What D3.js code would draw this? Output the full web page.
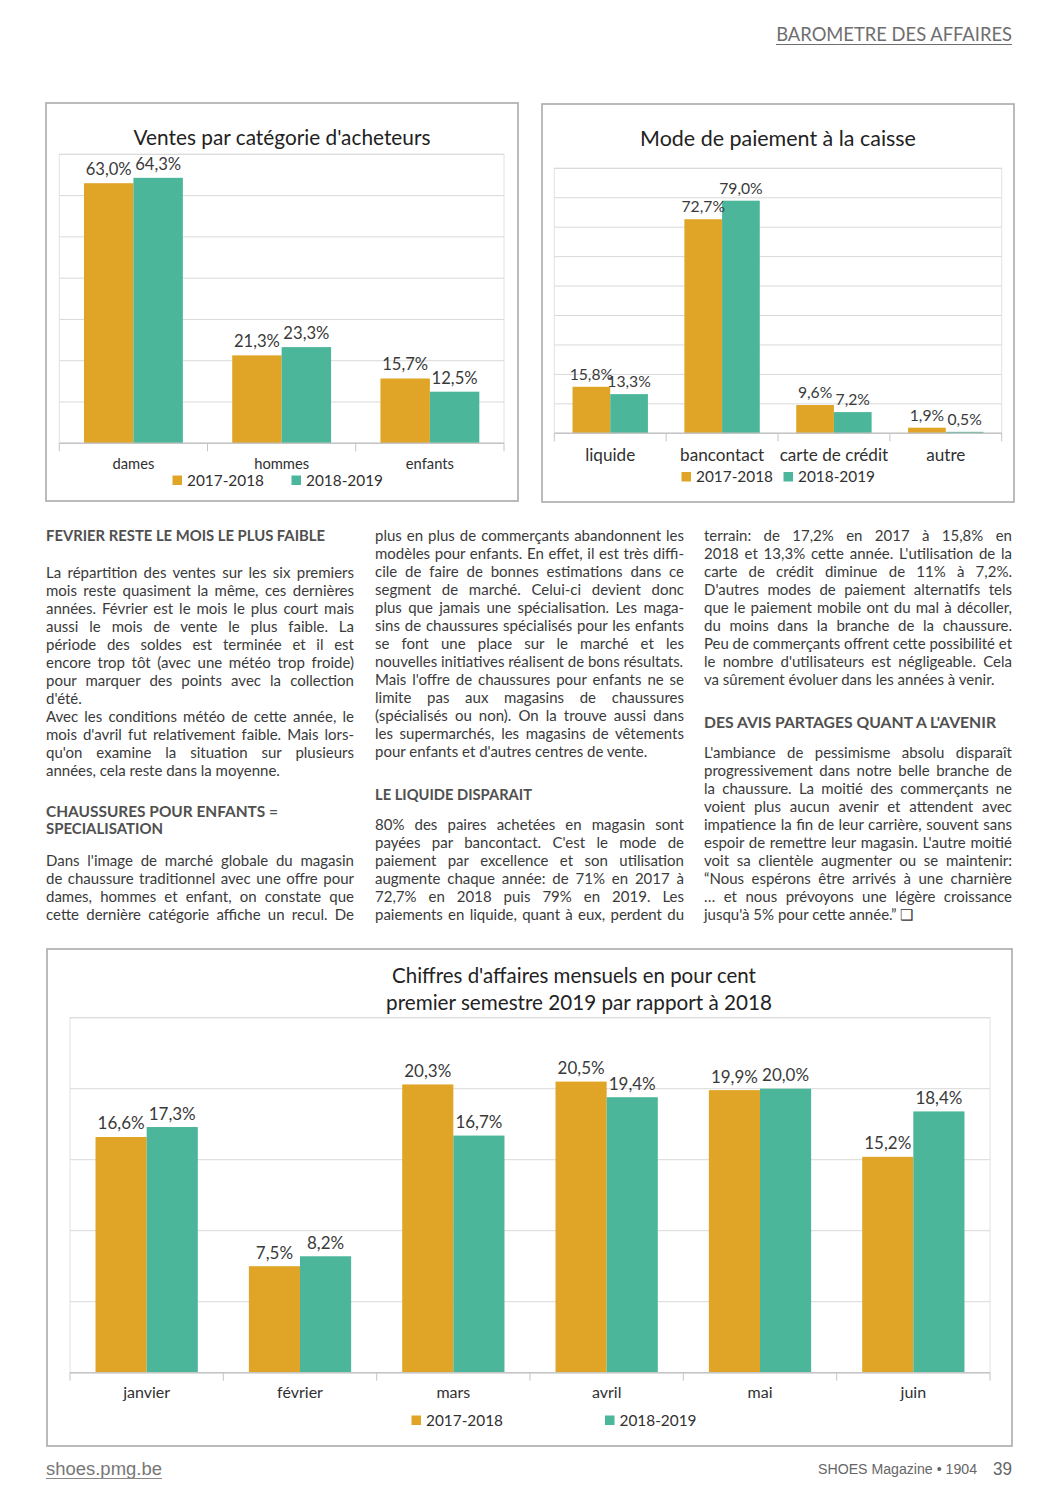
<!DOCTYPE html>
<html><head><meta charset="utf-8">
<script src="https://cdn.jsdelivr.net/npm/d3@7"></script>
<style>html,body{margin:0;padding:0;background:#fff;} svg{display:block;}</style>
</head><body>
<script>
// ---------- DATA ----------
const seriesNames = ["2017-2018", "2018-2019"];
const seriesColors = ["#E0A526", "#4BB69A"];

const buyerCats = ["dames", "hommes", "enfants"];
const buyer1718 = [63.0, 21.3, 15.7];
const buyer1819 = [64.3, 23.3, 12.5];
const buyerGrid = [10, 20, 30, 40, 50, 60, 70];

const payCats = ["liquide", "bancontact", "carte de crédit", "autre"];
const pay1718 = [15.8, 72.7, 9.6, 1.9];
const pay1819 = [13.3, 79.0, 7.2, 0.5];
const payGrid = [10, 20, 30, 40, 50, 60, 70, 80, 90];

const months = ["janvier", "février", "mars", "avril", "mai", "juin"];
const month1718 = [16.6, 7.5, 20.3, 20.5, 19.9, 15.2];
const month1819 = [17.3, 8.2, 16.7, 19.4, 20.0, 18.4];
const monthGrid = [5, 10, 15, 20, 25];

// ---------- SETUP ----------
const W = 1058, H = 1496;
const FONT = "Lato, 'Open Sans', sans-serif";
const svg = d3.select("body").append("svg").attr("width", W).attr("height", H);
svg.append("rect").attr("width", W).attr("height", H).attr("fill", "#fff");

function measure(str, size, family, weight) {
  const t = svg.append("text").attr("font-family", family).attr("font-weight", weight || 400)
    .attr("font-size", size).text(str);
  const w = t.node().getComputedTextLength();
  t.remove();
  return w;
}
function fitSize(str, target, family, weight) {
  return 100 * target / measure(str, 100, family || FONT, weight);
}
const fmt = v => d3.format(".1f")(v).replace(".", ",") + "%";

// ---------- BAR CHART ----------
function barChart(o) {
  const g = svg.append("g");
  g.append("rect").attr("x", o.box[0]).attr("y", o.box[1])
    .attr("width", o.box[2] - o.box[0]).attr("height", o.box[3] - o.box[1])
    .attr("fill", "#fff").attr("stroke", "#ababab").attr("stroke-width", 1.6);

  const x = d3.scaleBand().domain(o.cats).range([o.plot.l, o.plot.r])
    .paddingInner(o.pad).paddingOuter(o.pad / 2);
  const xs = d3.scaleBand().domain(seriesNames).range([0, x.bandwidth()]);
  const y = d3.scaleLinear().domain([0, o.yMax]).range([o.plot.b, o.plot.t]);

  // plot area border
  g.append("rect").attr("x", o.plot.l).attr("y", y(o.yMax))
    .attr("width", o.plot.r - o.plot.l).attr("height", y(0) - y(o.yMax))
    .attr("fill", "none").attr("stroke", "#e2e2e2").attr("stroke-width", 1);
  // gridlines
  g.selectAll(null).data(o.grid).join("line")
    .attr("x1", o.plot.l).attr("x2", o.plot.r)
    .attr("y1", d => y(d)).attr("y2", d => y(d))
    .attr("stroke", "#d9d9d9").attr("stroke-width", 1);

  // titles
  o.titles.forEach(tt => {
    const fs = fitSize(tt.t, tt.w);
    g.append("text").attr("x", tt.x).attr("y", tt.y).attr("text-anchor", "middle")
      .attr("font-family", FONT).attr("font-size", fs).attr("fill", "#222").text(tt.t);
  });

  const rows = o.cats.map((c, i) => ({ c, vals: o.series.map((s, k) => ({ c, k, s: seriesNames[k], v: s[i] })) }));
  const cg = g.selectAll(null).data(rows).join("g")
    .attr("transform", d => `translate(${x(d.c)},0)`);
  cg.selectAll("rect").data(d => d.vals).join("rect")
    .attr("x", d => xs(d.s)).attr("width", xs.bandwidth())
    .attr("y", d => y(d.v)).attr("height", d => y(0) - y(d.v))
    .attr("fill", d => seriesColors[d.k]);
  const lfs = fitSize(o.labelSample, o.labelW);
  cg.selectAll("text").data(d => d.vals).join("text")
    .attr("x", d => xs(d.s) + xs.bandwidth() / 2).attr("y", d => y(d.v) - o.labelOff)
    .attr("text-anchor", "middle").attr("font-family", FONT).attr("font-size", lfs)
    .attr("fill", "#3a3a3a").text(d => fmt(d.v));

  // axis
  const cfs = fitSize(o.catSample, o.catW);
  const ax = g.append("g").attr("transform", `translate(0,${y(0)})`)
    .call(d3.axisBottom(x).tickSize(0));
  ax.select(".domain").remove();
  ax.selectAll("text").attr("y", o.catY - y(0)).attr("dy", 0)
    .attr("font-family", FONT).attr("font-size", cfs).attr("fill", "#303030");
  g.append("line").attr("x1", o.plot.l).attr("x2", o.plot.r)
    .attr("y1", y(0)).attr("y2", y(0)).attr("stroke", "#c4c4c4").attr("stroke-width", 1.6);
  g.selectAll(null).data(d3.range(o.cats.length + 1)).join("line")
    .attr("x1", i => o.plot.l + i * x.step()).attr("x2", i => o.plot.l + i * x.step())
    .attr("y1", y(0)).attr("y2", y(0) + 8).attr("stroke", "#c4c4c4").attr("stroke-width", 1);

  // legend
  const legfs = fitSize("2017-2018", 77);
  seriesNames.forEach((s, k) => {
    const p = o.legend[k];
    g.append("rect").attr("x", p.x).attr("y", o.legY - 10).attr("width", 9.5).attr("height", 9.5)
      .attr("fill", seriesColors[k]);
    g.append("text").attr("x", p.x + 14.5).attr("y", o.legY).attr("font-family", FONT)
      .attr("font-size", legfs).attr("fill", "#303030").text(s);
  });
}

barChart({
  box: [46, 103, 518, 501], plot: { l: 59.3, r: 504, t: 154.3, b: 443.3 },
  cats: buyerCats, series: [buyer1718, buyer1819], yMax: 70, grid: buyerGrid, pad: 0.333,
  titles: [{ t: "Ventes par catégorie d'acheteurs", x: 282, y: 145, w: 297 }],
  labelSample: "63,0%", labelW: 46, labelOff: 8,
  catSample: "hommes", catW: 55, catY: 469.5,
  legend: [{ x: 172.5 }, { x: 291.5 }], legY: 485.5
});
barChart({
  box: [542, 104, 1014, 502], plot: { l: 554.3, r: 1001.7, t: 168.3, b: 433.3 },
  cats: payCats, series: [pay1718, pay1819], yMax: 90, grid: payGrid, pad: 0.326,
  titles: [{ t: "Mode de paiement à la caisse", x: 778, y: 146, w: 276 }],
  labelSample: "79,0%", labelW: 43.5, labelOff: 7,
  catSample: "bancontact", catW: 84, catY: 461.5,
  legend: [{ x: 681.5 }, { x: 783.5 }], legY: 482
});
barChart({
  box: [47, 949, 1012, 1446], plot: { l: 70, r: 990, t: 1017.7, b: 1372.7 },
  cats: months, series: [month1718, month1819], yMax: 25, grid: monthGrid, pad: 0.333,
  titles: [{ t: "Chiffres d'affaires mensuels en pour cent", x: 574, y: 983, w: 364 },
           { t: "premier semestre 2019 par rapport à 2018", x: 579, y: 1010, w: 386 }],
  labelSample: "16,6%", labelW: 47, labelOff: 7.5,
  catSample: "janvier", catW: 47, catY: 1398.5,
  legend: [{ x: 411.5 }, { x: 605 }], legY: 1425.5
});

// ---------- ARTICLE TEXT ----------
const bodyFs = (() => {
  const s = [["nouvelles initiatives réalisent de bons résultats.", 302],
             ["années, cela reste dans la moyenne.", 241],
             ["pour enfants et d'autres centres de vente.", 269],
             ["va sûrement évoluer dans les années à venir.", 292]];
  return d3.mean(s, d => fitSize(d[0], d[1]));
})();

function heading(x, y, str, w) {
  svg.append("text").attr("x", x).attr("y", y).attr("font-family", FONT).attr("font-weight", 700)
    .attr("font-size", 16).attr("fill", "#505050")
    .attr("textLength", w).attr("lengthAdjust", "spacingAndGlyphs").text(str);
}
function para(x, y0, width, lines) {
  lines.forEach((ln, i) => {
    const justify = ln[0] !== "*";
    const str = justify ? ln : ln.slice(1);
    const t = svg.append("text").attr("x", x).attr("y", y0 + i * 18)
      .attr("font-family", FONT).attr("font-size", bodyFs).attr("fill", "#3a3a3a")
      .attr("xml:space", "preserve").text(str);
    const w = t.node().getComputedTextLength();
    const spaces = (str.match(/ /g) || []).length;
    if (w > width) {
      t.attr("textLength", width).attr("lengthAdjust", "spacingAndGlyphs");
    } else if (justify && spaces > 0) {
      t.style("word-spacing", ((width - w) / spaces) + "px");
      const w2 = t.node().getComputedTextLength();
      if (Math.abs(w2 - width) > 2) {
        t.style("word-spacing", null).attr("textLength", width).attr("lengthAdjust", "spacing");
      }
    }
  });
}

heading(46, 540.5, "FEVRIER RESTE LE MOIS LE PLUS FAIBLE", 279);
para(46, 577.5, 308, [
  "La répartition des ventes sur les six premiers",
  "mois reste quasiment la même, ces dernières",
  "années. Février est le mois le plus court mais",
  "aussi le mois de vente le plus faible. La",
  "période des soldes est terminée et il est",
  "encore trop tôt (avec une météo trop froide)",
  "pour marquer des points avec la collection",
  "*d'été.",
  "Avec les conditions météo de cette année, le",
  "mois d'avril fut relativement faible. Mais lors-",
  "qu'on examine la situation sur plusieurs",
  "*années, cela reste dans la moyenne."
]);
heading(46, 816.5, "CHAUSSURES POUR ENFANTS =", 232);
heading(46, 834, "SPECIALISATION", 117);
para(46, 865.5, 308, [
  "Dans l'image de marché globale du magasin",
  "de chaussure traditionnel avec une offre pour",
  "dames, hommes et enfant, on constate que",
  "cette dernière catégorie affiche un recul. De"
]);

para(375, 541, 309, [
  "plus en plus de commerçants abandonnent les",
  "modèles pour enfants. En effet, il est très diffi-",
  "cile de faire de bonnes estimations dans ce",
  "segment de marché. Celui-ci devient donc",
  "plus que jamais une spécialisation. Les maga-",
  "sins de chaussures spécialisés pour les enfants",
  "se font une place sur le marché et les",
  "*nouvelles initiatives réalisent de bons résultats.",
  "Mais l'offre de chaussures pour enfants ne se",
  "limite pas aux magasins de chaussures",
  "(spécialisés ou non). On la trouve aussi dans",
  "les supermarchés, les magasins de vêtements",
  "*pour enfants et d'autres centres de vente."
]);
heading(375, 799.5, "LE LIQUIDE DISPARAIT", 157);
para(375, 829.5, 309, [
  "80% des paires achetées en magasin sont",
  "payées par bancontact. C'est le mode de",
  "paiement par excellence et son utilisation",
  "augmente chaque année: de 71% en 2017 à",
  "72,7% en 2018 puis 79% en 2019. Les",
  "paiements en liquide, quant à eux, perdent du"
]);

para(704, 541, 308, [
  "terrain: de 17,2% en 2017 à 15,8% en",
  "2018 et 13,3% cette année. L'utilisation de la",
  "carte de crédit diminue de 11% à 7,2%.",
  "D'autres modes de paiement alternatifs tels",
  "que le paiement mobile ont du mal à décoller,",
  "du moins dans la branche de la chaussure.",
  "Peu de commerçants offrent cette possibilité et",
  "le nombre d'utilisateurs est négligeable. Cela",
  "*va sûrement évoluer dans les années à venir."
]);
heading(704, 727.5, "DES AVIS PARTAGES QUANT A L'AVENIR", 292);
para(704, 757.5, 308, [
  "L'ambiance de pessimisme absolu disparaît",
  "progressivement dans notre belle branche de",
  "la chaussure. La moitié des commerçants ne",
  "voient plus aucun avenir et attendent avec",
  "impatience la fin de leur carrière, souvent sans",
  "espoir de remettre leur magasin. L'autre moitié",
  "voit sa clientèle augmenter ou se maintenir:",
  "“Nous espérons être arrivés à une charnière",
  "… et nous prévoyons une légère croissance",
  "*jusqu'à 5% pour cette année.” ❑"
]);

// ---------- PAGE HEADER / FOOTER ----------
(function () {
  const fs = fitSize("BAROMETRE DES AFFAIRES", 236);
  svg.append("text").attr("x", 1012).attr("y", 40.5).attr("text-anchor", "end")
    .attr("font-family", FONT).attr("font-size", fs).attr("fill", "#6e6e6e").text("BAROMETRE DES AFFAIRES");
  svg.append("line").attr("x1", 776).attr("x2", 1012).attr("y1", 44.5).attr("y2", 44.5)
    .attr("stroke", "#6e6e6e").attr("stroke-width", 1.2);

  const AR = "'Liberation Sans', Arial, sans-serif";
  const f1 = fitSize("shoes.pmg.be", 116, AR);
  svg.append("text").attr("x", 46).attr("y", 1474.5).attr("font-family", AR)
    .attr("font-size", f1).attr("fill", "#777").text("shoes.pmg.be");
  svg.append("line").attr("x1", 46).attr("x2", 162).attr("y1", 1478.5).attr("y2", 1478.5)
    .attr("stroke", "#888").attr("stroke-width", 1);
  svg.append("text").attr("x", 977).attr("y", 1474).attr("text-anchor", "end")
    .attr("font-family", AR).attr("font-size", 14).attr("fill", "#666")
    .attr("textLength", 159).attr("lengthAdjust", "spacingAndGlyphs").text("SHOES Magazine • 1904");
  svg.append("text").attr("x", 1012).attr("y", 1474.5).attr("text-anchor", "end")
    .attr("font-family", AR).attr("font-size", 19).attr("fill", "#666")
    .attr("textLength", 19).attr("lengthAdjust", "spacingAndGlyphs").text("39");
})();
</script>
</body></html>
